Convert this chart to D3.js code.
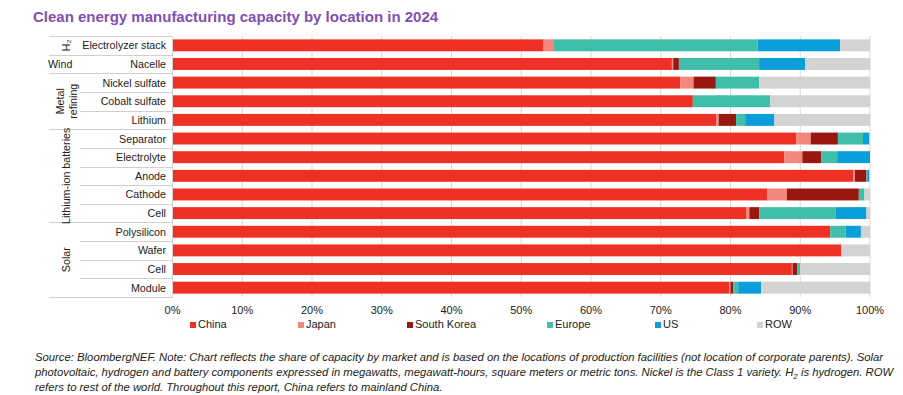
<!DOCTYPE html>
<html>
<head>
<meta charset="utf-8">
<script src="https://cdn.jsdelivr.net/npm/d3@7"></script>
<style>
  body { margin: 0; background: #fff; }
  svg { display: block; font-family: "Liberation Sans", Arial, sans-serif; }
</style>
</head>
<body>
<svg width="903" height="395"></svg>
<script>
// categories, top to bottom
const categories = ["Electrolyzer stack", "Nacelle", "Nickel sulfate", "Cobalt sulfate", "Lithium",
  "Separator", "Electrolyte", "Anode", "Cathode", "Cell",
  "Polysilicon", "Wafer", "Cell", "Module"];
const groups = [
  { name: ["H\u2082"], from: 0, to: 0 },
  { name: ["Wind"], from: 1, to: 1, flat: true },
  { name: ["Metal", "refining"], from: 2, to: 4 },
  { name: ["Lithium-ion batteries"], from: 5, to: 9 },
  { name: ["Solar"], from: 10, to: 13 }
];

// share of capacity, %
const china      = [53.2, 71.6, 72.8, 74.6, 78.0, 89.4, 87.7, 97.6, 85.3, 82.3, 94.3, 95.9, 88.8, 79.8];
const japan      = [1.5, 0.2, 1.9, 0, 0.3, 2.1, 2.6, 0.25, 2.8, 0.4, 0, 0, 0.1, 0.2];
const southKorea = [0, 0.8, 3.2, 0, 2.5, 3.9, 2.7, 1.65, 10.3, 1.4, 0, 0, 0.7, 0.4];
const europe     = [29.2, 11.5, 6.2, 11.1, 1.3, 3.6, 2.3, 0.1, 0.8, 11.0, 2.2, 0, 0.4, 0.7];
const us         = [11.8, 6.6, 0, 0, 4.2, 0.9, 4.7, 0.3, 0, 4.4, 2.2, 0, 0, 3.3];
const rest       = [4.3, 9.3, 15.9, 14.3, 13.7, 0.1, 0, 0.1, 0.8, 0.5, 1.3, 4.1, 10.0, 15.6];

const seriesNames = ["China", "Japan", "South Korea", "Europe", "US", "ROW"];
const seriesValues = [china, japan, southKorea, europe, us, rest];
const colors = ["#ee3124", "#f4877d", "#98170e", "#41bea9", "#0c9ddb", "#d3d3d3"];
const ticks = [0, 10, 20, 30, 40, 50, 60, 70, 80, 90, 100];

const svg = d3.select("svg");

// table for d3.stack
const table = categories.map((c, i) => {
  const row = { idx: i };
  seriesNames.forEach((s, j) => row[s] = seriesValues[j][i]);
  return row;
});
const stacked = d3.stack().keys(seriesNames)(table);

const x = d3.scaleLinear().domain([0, 100]).range([172.5, 870]);
const y = d3.scaleBand().domain(d3.range(categories.length)).range([36, 297]).paddingInner(0.36).paddingOuter(0.18);
const step = y.step();
const rowTop = i => 36 + i * step;

// title
svg.append("text")
  .attr("x", 33).attr("y", 22)
  .attr("font-size", 15).attr("font-weight", "bold")
  .attr("fill", "#7f4fb3")
  .text("Clean energy manufacturing capacity by location in 2024");

// gridlines
svg.append("g").selectAll("line")
  .data(ticks)
  .join("line")
  .attr("x1", d => x(d)).attr("x2", d => x(d))
  .attr("y1", 36).attr("y2", 297)
  .attr("stroke", "#d9d9d9").attr("stroke-width", 1);

// tick labels
svg.append("g").selectAll("text")
  .data(ticks)
  .join("text")
  .attr("x", d => x(d)).attr("y", 314)
  .attr("text-anchor", "middle")
  .attr("font-size", 11).attr("fill", "#222")
  .text(d => d + "%");

// bars
svg.append("g").selectAll("g")
  .data(stacked)
  .join("g")
  .attr("fill", (d, i) => colors[i])
  .selectAll("rect")
  .data(d => d)
  .join("rect")
  .attr("x", d => x(d[0]))
  .attr("width", d => Math.max(0, x(d[1]) - x(d[0])))
  .attr("y", (d, i) => y(i))
  .attr("height", y.bandwidth());

// left table lines
const groupEnds = new Set(groups.map(g => g.to));
const lines = svg.append("g").attr("stroke", "#d0d0d0").attr("stroke-width", 1);
lines.append("line").attr("x1", 49).attr("x2", 173).attr("y1", 36.5).attr("y2", 36.5);
categories.forEach((c, i) => {
  const yy = Math.round(rowTop(i + 1)) + 0.5;
  lines.append("line")
    .attr("x1", groupEnds.has(i) ? 49 : 80).attr("x2", 173)
    .attr("y1", yy).attr("y2", yy);
});
lines.append("line").attr("x1", 172.5).attr("x2", 172.5).attr("y1", 36).attr("y2", 297);

// category labels
svg.append("g").selectAll("text")
  .data(categories)
  .join("text")
  .attr("x", 166)
  .attr("y", (d, i) => y(i) + y.bandwidth() / 2 + 4)
  .attr("text-anchor", "end")
  .attr("font-size", 10.7).attr("fill", "#222")
  .text(d => d);

// group labels
groups.forEach(g => {
  const cy = (rowTop(g.from) + rowTop(g.to + 1)) / 2;
  if (g.flat) {
    svg.append("text").attr("x", 48).attr("y", cy + 4)
      .attr("font-size", 10.7).attr("fill", "#222").text(g.name[0]);
    return;
  }
  const n = g.name.length;
  g.name.forEach((t, k) => {
    const cx = 66 + (k - (n - 1) / 2) * 13;
    svg.append("text")
      .attr("transform", `translate(${cx + 4},${cy}) rotate(-90)`)
      .attr("text-anchor", "middle")
      .attr("font-size", 10.7).attr("fill", "#222")
      .text(t);
  });
});

// legend
const legendX = [190, 298, 407, 547, 655, 757];
const legend = svg.append("g").selectAll("g")
  .data(seriesNames)
  .join("g")
  .attr("transform", (d, i) => `translate(${legendX[i]},326)`);
legend.append("rect").attr("x", 0).attr("y", -4).attr("width", 6).attr("height", 6)
  .attr("fill", (d, i) => colors[i]);
legend.append("text").attr("x", 8).attr("y", 2)
  .attr("font-size", 11).attr("fill", "#222").text(d => d);

// footnote
const note = svg.append("g")
  .attr("font-family", "'Liberation Sans Narrow', 'Arial Narrow', 'Liberation Sans', sans-serif")
  .attr("font-style", "italic").attr("font-size", 11.5).attr("fill", "#222");
const n1 = note.append("text").attr("x", 35).attr("y", 361)
  .text("Source: BloombergNEF. Note: Chart reflects the share of capacity by market and is based on the locations of production facilities (not location of corporate parents). Solar");
const n2 = note.append("text").attr("x", 35).attr("y", 376);
n2.append("tspan").text("photovoltaic, hydrogen and battery components expressed in megawatts, megawatt-hours, square meters or metric tons. Nickel is the Class 1 variety. H");
n2.append("tspan").attr("font-size", 8).attr("dy", 3).text("2");
n2.append("tspan").attr("dy", -3).text(" is hydrogen. ROW");
note.append("text").attr("x", 35).attr("y", 391)
  .text("refers to rest of the world. Throughout this report, China refers to mainland China.");
// scale the footnote so the first line fills the same width as in the source
const natural = n1.node().getComputedTextLength();
note.attr("font-size", 11.5 * 849 / natural);
</script>
</body>
</html>
